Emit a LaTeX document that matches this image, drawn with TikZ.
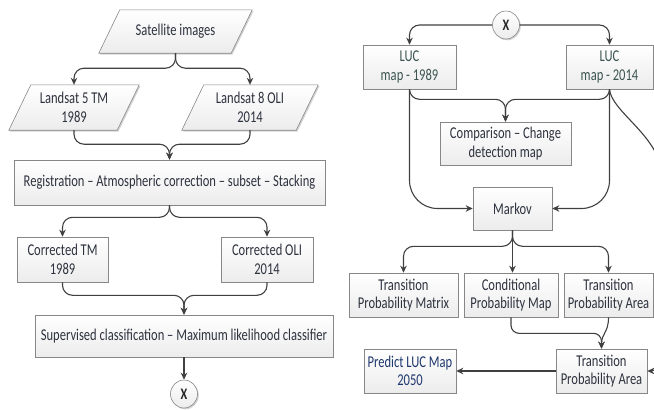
\documentclass[tikz,border=0pt]{standalone}
\usepackage{fontspec}
\setmainfont{Carlito}[FakeStretch=0.76]
\usetikzlibrary{arrows.meta,shadows,backgrounds,calc,shapes.geometric}
\definecolor{txt}{RGB}{45,50,62}
\definecolor{luctxt}{RGB}{60,85,80}
\definecolor{predtxt}{RGB}{30,55,110}
\definecolor{edge}{RGB}{135,135,135}
\definecolor{lnk}{RGB}{64,64,64}
\begin{document}
\begin{tikzpicture}[x=1pt,y=-1pt,
  shad/.style={drop shadow={shadow xshift=1.3pt,shadow yshift=-1.3pt,opacity=0.35}},
  box/.style={draw=edge,line width=0.6pt,top color=white,bottom color=gray!15,shad,
    text=txt,align=center,inner sep=1pt,font=\fontsize{16.5}{18.5}\selectfont},
  ptext/.style={text=txt,align=center,inner sep=0pt,font=\fontsize{16.5}{18.5}\selectfont},
  pbox/.style={draw=edge,line width=0.6pt,top color=white,bottom color=gray!15,shad},
  xnode/.style={draw=edge,line width=0.6pt,ellipse,top color=white,bottom color=gray!15,shad,
    minimum width=27pt,minimum height=28pt,inner sep=0pt,font=\fontsize{16}{18}\selectfont\bfseries,text=black!85},
  conn/.style={draw=lnk,line width=1.1pt,rounded corners=10pt,-{Stealth[length=7pt,width=6.5pt]}}
]
\useasboundingbox (0,0) rectangle (654,410);
\clip (0,0) rectangle (654,410);

% ---------- left column ----------
\node[ptext,minimum width=132pt,minimum height=43pt] (sat) at (175.5,31.5) {Satellite images};
\node[ptext,minimum width=108pt,minimum height=45pt] (l5) at (74,107.5) {Landsat 5 TM\\1989};
\node[ptext,minimum width=114pt,minimum height=45pt] (l8) at (250,107.5) {Landsat 8 OLI\\2014};
\begin{pgfonlayer}{background}
\path[pbox] ([xshift=10.5pt]sat.north west) -- ([xshift=10.5pt]sat.north east) -- ([xshift=-10.5pt]sat.south east) -- ([xshift=-10.5pt]sat.south west) -- cycle;
\path[pbox] ([xshift=11pt]l5.north west) -- ([xshift=11pt]l5.north east) -- ([xshift=-11pt]l5.south east) -- ([xshift=-11pt]l5.south west) -- cycle;
\path[pbox] ([xshift=11pt]l8.north west) -- ([xshift=11pt]l8.north east) -- ([xshift=-11pt]l8.south east) -- ([xshift=-11pt]l8.south west) -- cycle;
\end{pgfonlayer}

\node[box,minimum width=311pt,minimum height=45pt] (reg) at (169.5,182.5) {Registration -- Atmospheric correction -- subset -- Stacking};
\node[box,minimum width=91pt,minimum height=45pt] (ctm) at (62.5,259.5) {Corrected TM\\1989};
\node[box,minimum width=92pt,minimum height=45pt] (coli) at (267,259.5) {Corrected OLI\\2014};
\node[box,minimum width=298pt,minimum height=42pt] (sup) at (184,336) {Supervised classification -- Maximum likelihood classifier};
\node[xnode] (x1) at (184,394) {X};

\draw[conn] (sat.south) -- ++(0,15) -| (l5.north);
\draw[conn] (sat.south) -- ++(0,15) -| (l8.north);
\draw[conn] (l5.south) -- ++(0,14) -| (reg.north);
\draw[conn] (l8.south) -- ++(0,14) -| (reg.north);
\draw[conn] (reg.south) -- ++(0,12) -| (ctm.north);
\draw[conn] (reg.south) -- ++(0,12) -| (coli.north);
\draw[conn] (ctm.south) -- ++(0,13) -| (sup.north);
\draw[conn] (coli.south) -- ++(0,13) -| (sup.north);
\draw[conn] (sup.south) -- (x1.north);

% ---------- right column ----------
\node[xnode] (x2) at (506,25) {X};
\node[box,text=luctxt,minimum width=93pt,minimum height=44pt] (luc89) at (409.5,67) {LUC\\map - 1989};
\node[box,text=luctxt,minimum width=87pt,minimum height=44pt] (luc14) at (609.5,67) {LUC\\map - 2014};
\node[box,minimum width=131pt,minimum height=43pt] (cmp) at (505.5,143.5) {Comparison -- Change\\detection map};
\node[box,minimum width=79pt,minimum height=43pt] (mk) at (512.5,208.5) {Markov};
\node[box,minimum width=109pt,minimum height=44pt] (tpm) at (403.5,295) {Transition\\Probability Matrix};
\node[box,minimum width=94pt,minimum height=44pt] (cpm) at (511,295) {Conditional\\Probability Map};
\node[box,minimum width=89pt,minimum height=44pt] (tpa1) at (608.5,295) {Transition\\Probability Area};
\node[box,minimum width=91pt,minimum height=44pt] (tpa2) at (601.5,371) {Transition\\Probability Area};
\node[box,text=predtxt,minimum width=92pt,minimum height=44pt] (pred) at (410,371) {Predict LUC Map\\2050};

\draw[conn] (x2.west) -| (luc89.north);
\draw[conn] (x2.east) -| (luc14.north);
\draw[conn] (luc89.south) -- ++(0,10) -| (cmp.north);
\draw[conn] (luc14.south) -- ++(0,10) -| (cmp.north);
\draw[conn,rounded corners=28pt] (luc89.south) |- (mk.west);
\draw[conn,rounded corners=28pt] (luc14.south) |- (mk.east);
\draw[conn,rounded corners=0pt] (luc14.south) .. controls +(2,22) and +(-4,-35) .. (661,170) -- (661,345) .. controls +(0,18) and +(10,0) .. (tpa2.east);
\draw[conn] (mk.south) -- ++(0,16) -| (tpm.north);
\draw[conn] (mk.south) -- (mk.south |- cpm.north);
\draw[conn] (mk.south) -- ++(0,16) -| (tpa1.north);
\draw[conn,rounded corners=8pt] (cpm.south) -- ++(0,16) -| (tpa2.north);
\draw[conn,rounded corners=0pt] (tpa1.south) .. controls +(0,16) and +(0,-16) .. (tpa2.north);
\draw[conn,line width=1.8pt] (tpa2.west) -- (pred.east);
\end{tikzpicture}
\end{document}
